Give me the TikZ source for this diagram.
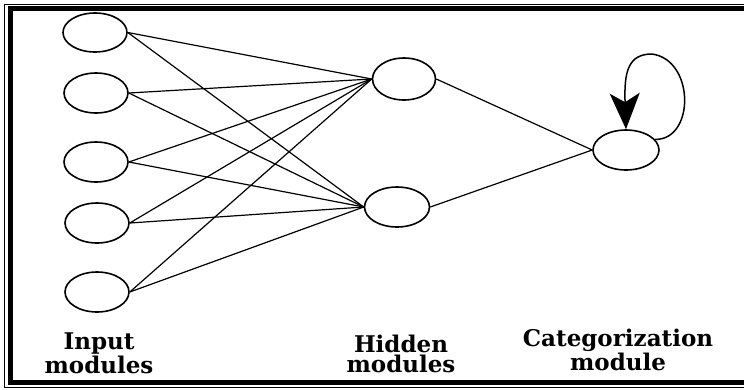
\documentclass[tikz,border=0pt]{standalone}
\usepackage{fontspec}
\setmainfont{DejaVu Serif}
\usetikzlibrary{arrows.meta,shapes.geometric}
\begin{document}
\begin{tikzpicture}[x=1pt,y=-1pt,
  unit/.style={draw,ellipse,line width=1.6pt,minimum width=#1,inner sep=0pt},
  unit/.default=64pt,
  link/.style={line width=1.2pt},
  lbl/.style={align=center,font=\bfseries\fontsize{23}{20}\selectfont,inner sep=0pt,anchor=base}]
\useasboundingbox (0,0) rectangle (744,389);
% frame
\draw[line width=1pt] (744,4) -- (4,4) -- (4,387.5) -- (744,387.5);
\draw[line width=4.8pt] (744,8.5) -- (10.5,8.5) -- (10.5,382.5) -- (744,382.5);
% input units
\node[unit, minimum height=39pt] (i1) at (95,32.5) {};
\node[unit, minimum height=40pt] (i2) at (96,93) {};
\node[unit, minimum height=40pt] (i3) at (96,162) {};
\node[unit, minimum height=40pt] (i4) at (97,223) {};
\node[unit, minimum height=40pt] (i5) at (97,292) {};
% hidden units
\node[unit=63pt, minimum height=42pt] (h1) at (404,79) {};
\node[unit=65pt, minimum height=40pt] (h2) at (397,207) {};
% categorization unit
\node[unit=66pt, minimum height=40pt] (c) at (626,150) {};
% connections
\foreach \i in {1,...,5}{
  \draw[link] (i\i.east) -- (h1.west);
  \draw[link] (i\i.east) -- (h2.west);
}
\draw[link] (h1.east) -- (c.west);
\draw[link] (h2.east) -- (c.west);
% recurrent loop
\draw[line width=1.5pt,-{Stealth[length=36pt,width=30pt,inset=9pt]}]
  (c.20) .. controls (695,140) and (695,60) .. (652,54)
  .. controls (628,54) and (624,72) .. (c.north);
% labels
\node[lbl] (li) at (99,373) {Input\\modules};
\node[lbl] (lh) at (401,372) {Hidden\\modules};
\node[lbl] (lc) at (618,370) {Categorization\\module};
\end{tikzpicture}
\end{document}
